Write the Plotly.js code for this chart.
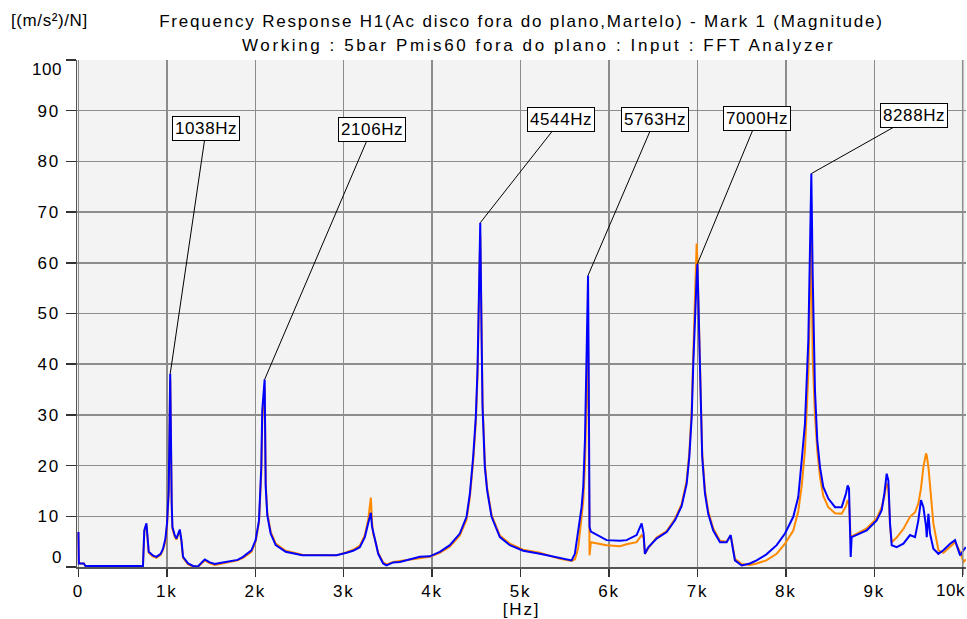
<!DOCTYPE html>
<html><head><meta charset="utf-8">
<script src="https://cdn.plot.ly/plotly-3.0.1.min.js"></script>
<style>
html,body{margin:0;padding:0;background:#fff;}
#chart{width:967px;height:619px;}
text{letter-spacing:1.8px;}
text.annotation-text{letter-spacing:0.6px;}
g.annotation[data-index="6"] text{letter-spacing:2.6px;}
</style>
</head><body><div id="chart"></div>
<script>
// Frequency grid (Hz)
const freqHz = [0,5,60,80,730,745,769,795,840,882,930,957,984,1002,1021,1038,1055,1063,1089,1108,1146,1165,1183,1240,1297,1353,1400,1429,1485,1542,1600,1712,1800,1862,1957,2004,2042,2068,2079,2106,2118,2136,2174,2231,2344,2532,2919,3032,3106,3182,3239,3276,3307,3320,3333,3352,3390,3446,3484,3559,3635,3861,3974,4087,4200,4313,4389,4427,4464,4494,4514,4528,4544,4559,4570,4596,4622,4672,4766,4879,5030,5218,5445,5577,5614,5633,5652,5690,5709,5728,5750,5763,5770,5780,5795,5902,5973,6124,6199,6312,6369,6391,6406,6444,6538,6652,6746,6821,6878,6908,6935,6953,6972,6991,7000,7021,7036,7054,7085,7122,7179,7255,7330,7376,7398,7424,7500,7594,7670,7780,7896,7990,8084,8140,8179,8216,8254,8273,8288,8303,8329,8355,8386,8423,8480,8556,8631,8680,8699,8714,8733,8744,8801,8914,9027,9084,9114,9140,9159,9178,9197,9253,9329,9404,9461,9498,9528,9555,9585,9593,9612,9630,9668,9725,9781,9857,9913,9970,10008,10035];
// Magnitude, blue trace [(m/s²)/N]
const magBlue = [6.9,0.7,0.7,0.2,0.2,7.2,8.6,3.0,2.3,2.0,2.6,3.6,5.6,8.6,15.1,38.1,12.6,7.9,6.3,5.6,7.4,5.3,2.0,0.7,0.2,0.1,1.0,1.5,0.9,0.6,0.8,1.1,1.4,2.0,3.3,5.3,9.2,19.7,30.9,37.0,15.8,10.2,6.6,4.3,3.0,2.3,2.3,2.8,3.2,3.9,5.9,8.6,10.7,8.0,6.9,5.9,2.6,0.7,0.3,0.9,1.0,2.0,2.1,3.0,4.3,6.6,9.9,14.5,21.7,29.6,39.4,52.6,67.9,46,31.6,19.7,15.1,9.9,5.9,4.3,3.2,2.6,1.7,1.3,2.6,5.0,7.5,11.8,15.8,25,45,57.5,40,7.9,7.0,5.9,5.3,5.2,5.3,6.3,8.6,6.6,2.6,3.9,5.6,6.9,9.2,12.0,16.4,21.7,29.6,40.1,50.6,57,59.8,42.7,30.3,21.7,14.5,10.5,7.2,4.9,4.9,6.3,3.9,1.3,0.3,0.7,1.3,2.5,4.3,6.6,9.9,13.8,21,28.3,44.7,64.4,77.6,57.9,34.9,25,19.7,15.8,13.5,11.8,11.8,14.5,16.1,15.5,2.0,5.9,6.3,7.2,9.2,11.2,14.5,18.4,17.1,8.6,4.3,3.9,4.6,6.3,5.9,9.2,13.2,11.8,8.0,5.9,10.5,6.6,3.6,2.6,3.3,4.6,5.3,2.3,3.3,3.9];
// Magnitude, orange trace [(m/s²)/N]
const magOrange = [6.9,0.7,0.7,0.2,0.2,7.0,8.3,2.8,2.1,1.8,2.4,3.4,5.0,8.0,14.5,37,12.0,7.5,6.0,5.4,7.1,5.0,1.8,0.5,0.1,0.1,0.8,1.3,0.7,0.4,0.6,1.0,1.3,1.8,3.0,5.0,8.8,18.5,29,35.5,16.5,10.6,7.0,4.6,3.2,2.4,2.3,2.9,3.4,4.2,6.3,9.2,13.7,9.0,6.5,5.5,2.8,0.9,0.5,1.0,1.2,1.8,2.0,2.8,4.0,6.2,9.3,13.8,20.8,28.5,38,51,65.5,47,32.5,20.5,15.6,10.3,6.2,4.6,3.4,2.8,1.6,1.2,1.5,2.5,3.9,9.9,13.0,20,35,45,30,2.3,4.9,4.5,4.3,4.1,4.5,4.9,6.3,5.8,2.6,3.7,5.8,7.1,9.5,12.4,17.0,22.5,31,42,53,63.8,60.5,43.5,31,22.5,15.2,11,7.6,5.2,5.0,6.2,4.2,1.6,0.6,0.4,0.7,1.3,2.6,4.6,7.2,11,16,23,38.1,55,65.8,41.4,30,23,17.8,14.0,11.8,10.6,10.5,12.0,13.2,12.5,5.6,6.0,6.5,7.6,9.6,11.8,14.0,16.5,15.5,8.0,4.9,5.8,7.5,9.9,10.8,12.5,15.5,19.7,22.4,22.0,19.7,16,8.6,3.3,2.8,4.0,4.9,3.0,1.0,1.5];
// Marked peaks
const peakFreqs = [1038,2106,4544,5763,7000,8288];
const peakLabels = peakFreqs.map(f => f + 'Hz');
// Label box offsets from each peak (px)
const peakOffsetX = [36,107,81,67,60,103];
const peakOffsetY = [-245,-250,-103,-156,-145,-58];
// Ticks
const xTickVals = [0,1000,2000,3000,4000,5000,6000,7000,8000,9000,10000];
const xTickText = ['0','1k','2k','3k','4k','5k','6k','7k','8k','9k',''];
const xLastTickText = '10k';
const yTickVals = [0,10,20,30,40,50,60,70,80,90,100];
const yTickText = ['','10','20','30','40','50','60','70','80','90',''];

const FONT = 'Liberation Sans, Arial, Helvetica, sans-serif';
const fnt = {family: FONT, size: 17, color: '#000'};
const GRID = '#8c8c8c';

const traces = [
  {x: freqHz, y: magOrange, type: 'scatter', mode: 'lines', name: 'orange',
   line: {color: '#ff8a00', width: 2}, hoverinfo: 'skip'},
  {x: freqHz, y: magBlue, type: 'scatter', mode: 'lines', name: 'blue',
   line: {color: '#0000ff', width: 2}, hoverinfo: 'skip'}
];

const annotations = peakFreqs.map((f, i) => ({
  x: f, y: magBlue[freqHz.indexOf(f)], xref: 'x', yref: 'y',
  text: peakLabels[i], showarrow: true, arrowhead: 0, arrowwidth: 1, arrowcolor: '#000',
  ax: peakOffsetX[i], ay: peakOffsetY[i],
  bgcolor: '#fff', bordercolor: '#000', borderwidth: 1, borderpad: 2,
  font: fnt
}));
annotations.push(
  {xref: 'paper', yref: 'paper', x: 0.5, y: 1, yanchor: 'middle', xshift: 17, yshift: 15, showarrow: false,
   text: 'Working : 5bar Pmis60 fora do plano : Input : FFT Analyzer', font: fnt},
  {xref: 'paper', yref: 'paper', x: 0, y: 1, xanchor: 'left', yanchor: 'middle', xshift: -68, yshift: 40, showarrow: false,
   text: '[(m/s²)/N]', font: fnt},
  {xref: 'paper', yref: 'paper', x: 0, y: 0, xanchor: 'right', yanchor: 'middle', xshift: -13, yshift: 10, showarrow: false,
   text: '0', font: fnt},
  {xref: 'paper', yref: 'paper', x: 0, y: 1, xanchor: 'right', yanchor: 'middle', xshift: -13, yshift: -9, showarrow: false,
   text: '100', font: fnt},
  {xref: 'x', yref: 'paper', x: xTickVals[xTickVals.length - 1], y: 0, xanchor: 'right', yanchor: 'middle', xshift: 4, yshift: -23, showarrow: false,
   text: xLastTickText, font: fnt}
);

const lastX = xTickVals[xTickVals.length - 1];
const shapes = [
  {type: 'line', xref: 'x', yref: 'paper', x0: lastX, x1: lastX, y0: 0, y1: 1, layer: 'above',
   line: {color: GRID, width: 1.5}},
  {type: 'line', xref: 'x', yref: 'paper', ysizemode: 'pixel', yanchor: 0, x0: lastX, x1: lastX, y0: 0, y1: -8,
   line: {color: '#333', width: 1.5}}
];

const layout = {
  width: 967, height: 619,
  margin: {l: 77, r: 1, t: 60, b: 52, pad: 0},
  paper_bgcolor: '#ffffff', plot_bgcolor: '#f3f3f3',
  showlegend: false,
  font: fnt,
  title: {text: 'Frequency Response H1(Ac disco fora do plano,Martelo) - Mark 1 (Magnitude)',
          font: fnt, xref: 'paper', x: 0.5, xanchor: 'center', yref: 'container', y: 1 - 21/619, yanchor: 'middle'},
  xaxis: {range: [-16, 10037], tickvals: xTickVals, ticktext: xTickText, ticklabeloverflow: 'allow',
          showgrid: true, gridcolor: GRID, gridwidth: 1.5, zeroline: false,
          showline: true, linecolor: '#555', linewidth: 1.5,
          ticks: 'outside', ticklen: 8, tickcolor: '#333', tickwidth: 1.5, ticklabelstandoff: 0,
          tickfont: fnt,
          title: {text: '[Hz]', standoff: 0, font: fnt}},
  yaxis: {range: [0, 100], tickvals: yTickVals, ticktext: yTickText,
          showgrid: true, gridcolor: GRID, gridwidth: 1.5, zeroline: false,
          showline: true, linecolor: '#555', linewidth: 1.5,
          ticks: 'outside', ticklen: 10, tickcolor: '#333', tickwidth: 1.5, ticklabelstandoff: 2,
          tickfont: fnt},
  shapes: shapes,
  annotations: annotations
};

Plotly.newPlot('chart', traces, layout, {staticPlot: true, displayModeBar: false});
</script>
</body></html>
